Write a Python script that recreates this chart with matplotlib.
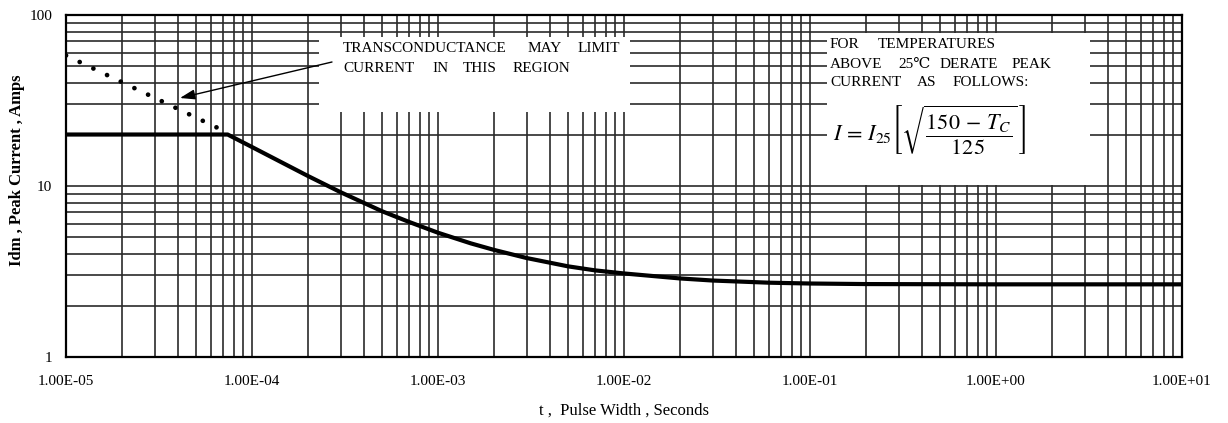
import matplotlib
matplotlib.use("Agg")
import matplotlib.pyplot as plt
from matplotlib.patches import Rectangle
from matplotlib.ticker import LogLocator, FixedLocator, FixedFormatter, NullFormatter

plt.rcParams['font.family'] = ['Liberation Serif', 'DejaVu Serif']
plt.rcParams['mathtext.fontset'] = 'stix'

# ---- data ----
t_curve = [1e-5, 7.4e-5, 1e-4, 1.5e-4, 2e-4, 3e-4, 5e-4, 7e-4, 1e-3, 1.5e-3,
           2e-3, 3e-3, 5e-3, 7e-3, 1e-2, 2e-2, 3e-2, 6e-2, 1e-1, 2e-1, 1.0, 10.0]
i_curve = [20, 20, 16.9, 13.45, 11.44, 9.19, 7.12, 6.16, 5.33, 4.62,
           4.23, 3.79, 3.39, 3.21, 3.08, 2.88, 2.80, 2.72, 2.69, 2.67, 2.66, 2.66]
t_dotted = [1e-5, 7.4e-5]
i_dotted = [58, 20.5]
x_ticks = [1e-5, 1e-4, 1e-3, 1e-2, 1e-1, 1e0, 1e1]
x_ticklabels = ["1.00E-05", "1.00E-04", "1.00E-03", "1.00E-02", "1.00E-01", "1.00E+00", "1.00E+01"]
y_ticks = [1, 10, 100]
y_ticklabels = ["1", "10", "100"]

W, H = 1228, 423
fig = plt.figure(figsize=(W / 100, H / 100), dpi=100)
L, R, T, B = 66, 1182, 15, 357
ax = fig.add_axes([L / W, 1 - B / H, (R - L) / W, (B - T) / H])

ax.set_xscale('log')
ax.set_yscale('log')
ax.set_xlim(1e-5, 10)
ax.set_ylim(1, 100)

ax.xaxis.set_major_locator(FixedLocator(x_ticks))
ax.xaxis.set_major_formatter(FixedFormatter(x_ticklabels))
ax.yaxis.set_major_locator(FixedLocator(y_ticks))
ax.yaxis.set_major_formatter(FixedFormatter(y_ticklabels))
ax.xaxis.set_minor_locator(LogLocator(base=10, subs=range(2, 10), numticks=20))
ax.yaxis.set_minor_locator(LogLocator(base=10, subs=range(2, 10), numticks=20))
ax.xaxis.set_minor_formatter(NullFormatter())
ax.yaxis.set_minor_formatter(NullFormatter())

ax.tick_params(which='both', length=0)
ax.tick_params(axis='x', pad=13, labelsize=11)
ax.tick_params(axis='y', pad=10, labelsize=11)

ax.set_axisbelow(True)
ax.grid(True, which='both', color='#2a2a2a', linewidth=1.2)
for s in ax.spines.values():
    s.set_linewidth(1.6)
    s.set_color('black')

# white boxes over the grid
def px_to_ax(x, y):
    return ((x - L) / (R - L), (B - y) / (B - T))

for (x0, y0, x1, y1) in [(319, 37, 630, 112), (827, 33, 1090, 185)]:
    ax0, ay1 = px_to_ax(x0, y0)
    ax1, ay0 = px_to_ax(x1, y1)
    ax.add_patch(Rectangle((ax0, ay0), ax1 - ax0, ay1 - ay0, transform=ax.transAxes,
                           facecolor='white', edgecolor='none', zorder=2))

ax.plot(t_curve, i_curve, color='black', linewidth=3.0, zorder=3, solid_capstyle='round',
        solid_joinstyle='round')
ax.plot(t_dotted, i_dotted, color='black', linewidth=3.4, linestyle=(0, (0.01, 3.2)),
        dash_capstyle='round', zorder=3)

# arrow
ax.annotate('', xy=px_to_ax(180, 98), xycoords='axes fraction',
            xytext=px_to_ax(332, 62), textcoords='axes fraction',
            arrowprops=dict(arrowstyle='-|>,head_length=0.9,head_width=0.3',
                            color='black', lw=1.0, shrinkA=0, shrinkB=0), zorder=5)

def ftext(x, y, s, **kw):
    fig.text(x / W, 1 - y / H, s, **kw)

words = [
    (343, 48, "TRANSCONDUCTANCE"), (528, 48, "MAY"), (578, 48, "LIMIT"),
    (343, 69, "CURRENT"), (432, 69, "IN"), (463, 69, "THIS"), (513, 69, "REGION"),
    (830, 44, "FOR"), (878, 44, "TEMPERATURES"),
    (830, 65, "ABOVE"), (898, 65, "25℃"), (940, 65, "DERATE"), (1012, 65, "PEAK"),
    (830, 83, "CURRENT"), (917, 83, "AS"), (953, 83, "FOLLOWS:"),
]
for x, y, s in words:
    ftext(x, y, s, fontsize=11, ha='left', va='center', zorder=6)

ftext(833, 130, r'$I\,=\,I_{25}\left[\sqrt{\dfrac{150\,-\,T_C}{125}}\,\right]$',
      fontsize=16, ha='left', va='center', zorder=6)

ftext(624, 411, "t ,  Pulse Width , Seconds", fontsize=12, ha='center', va='center')
ftext(17, 170, "Idm , Peak Current , Amps", fontsize=12, fontweight='bold',
      rotation=90, ha='center', va='center')

fig.savefig("out.png", dpi=100)
